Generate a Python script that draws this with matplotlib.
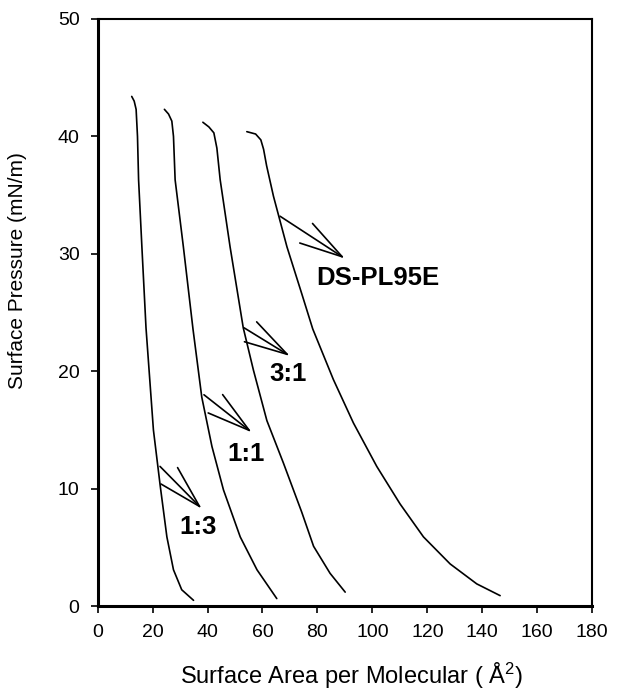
import numpy as np
import matplotlib
matplotlib.use("Agg")
import matplotlib.pyplot as plt

plt.rcParams['font.family'] = ['Liberation Sans', 'DejaVu Sans']
plt.rcParams['mathtext.fontset'] = 'custom'
plt.rcParams['mathtext.rm'] = 'Liberation Sans'
plt.rcParams['mathtext.it'] = 'Liberation Sans:italic'

#=============================================================================
#                 DONNÉES (isothermes pi-A)
#=============================================================================

# rapport 1:3
x_13 = [12.4, 13.3, 14.0, 14.5, 14.9, 16.1, 17.6, 20.3, 22.8, 25.2, 27.6, 30.6, 34.9]
y_13 = [43.4, 43.0, 42.3, 40.0, 36.3, 30.6, 23.7, 15.0, 10.2, 5.9, 3.1, 1.4, 0.5]

# rapport 1:1
x_11 = [24.3, 25.8, 27.0, 27.6, 28.2, 31.2, 34.7, 37.9, 41.6, 45.8, 51.9, 58.0, 65.2]
y_11 = [42.3, 41.9, 41.3, 40.0, 36.3, 30.6, 23.6, 17.8, 13.6, 9.9, 5.9, 3.1, 0.65]

# rapport 3:1
x_31 = [38.3, 40.5, 42.3, 43.4, 44.6, 48.2, 53.0, 56.7, 61.6, 67.6, 74.3, 78.6, 84.6, 90.1]
y_31 = [41.2, 40.8, 40.3, 39.0, 36.3, 30.6, 23.7, 20.1, 15.8, 12.2, 8.0, 5.1, 2.8, 1.2]

# DS-PL95E pur
x_ds = [54.3, 57.5, 59.4, 60.4, 61.5, 64.0, 68.9, 74.3, 78.3, 85.8, 93.1, 101.6,
        110.1, 118.6, 128.3, 138.0, 146.5]
y_ds = [40.4, 40.2, 39.7, 38.9, 37.5, 34.9, 30.6, 26.6, 23.6, 19.3, 15.6, 11.9,
        8.7, 5.9, 3.6, 1.9, 0.9]

# étiquettes : (texte, départ flèche, pointe flèche, position du texte)
labels = ['1:3', '1:1', '3:1', 'DS-PL95E']
queues = [(22.7, 11.9), (38.7, 18.0), (53.3, 23.7), (66.4, 33.2)]
pointes = [(37.9, 8.3), (56.1, 14.8), (70.0, 21.3), (90.0, 29.6)]
pos_txt = [(36.7, 6.75), (54.0, 13.0), (69.2, 19.8), (102.1, 27.9)]

xticks = [0, 20, 40, 60, 80, 100, 120, 140, 160, 180]
yticks = [0, 10, 20, 30, 40, 50]

#=============================================================================
#                                 TRACÉ
#=============================================================================

fig = plt.figure(figsize=(6.22, 7.0), dpi=100)
ax = fig.add_axes([0.157, 0.134, 0.795, 0.839])

for xs, ys in [(x_13, y_13), (x_11, y_11), (x_31, y_31), (x_ds, y_ds)]:
    ax.plot(xs, ys, color='black', lw=1.2, solid_capstyle='round',
            solid_joinstyle='round')

for txt, q, p, t in zip(labels, queues, pointes, pos_txt):
    ax.annotate('', xy=p, xytext=q,
                arrowprops=dict(arrowstyle='->, head_length=31, head_width=8.4',
                                mutation_scale=1, lw=1.2, color='black',
                                shrinkA=0, shrinkB=0))
    ax.text(t[0], t[1], txt, fontsize=18.5, fontweight='bold',
            ha='center', va='center')

ax.set_xlim(0, 180)
ax.set_ylim(0, 50)
ax.set_xticks(xticks)
ax.set_yticks(yticks)
ax.tick_params(direction='out', length=5, width=1.2, labelsize=14, pad=8)

for s in ['left', 'bottom']:
    ax.spines[s].set_linewidth(2.2)
for s in ['top', 'right']:
    ax.spines[s].set_linewidth(1.5)

ax.set_xlabel('Surface Area per Molecular ( Å$^{2}$)', fontsize=17)
ax.set_ylabel('Surface Pressure (mN/m)', fontsize=15)
ax.xaxis.set_label_coords(0.513, -0.093)
ax.yaxis.set_label_coords(-0.143, 0.571)

plt.savefig('out.png', dpi=100)
